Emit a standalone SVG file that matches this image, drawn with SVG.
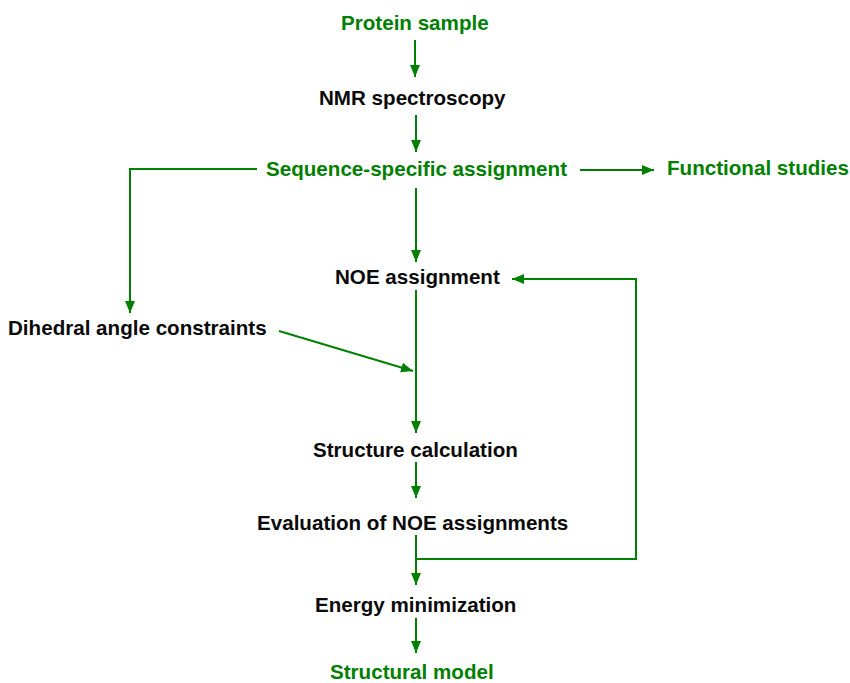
<svg xmlns="http://www.w3.org/2000/svg" width="850" height="683" viewBox="0 0 850 683">
<defs>
<style>
text{font-family:"Liberation Sans",Arial,sans-serif;font-weight:bold;font-size:20.6px}
.g{fill:#008000}
.k{fill:#0a0a0a}
.c{fill:none;stroke:#008000;stroke-width:2}
</style>
<marker id="ah" markerUnits="userSpaceOnUse" markerWidth="13" markerHeight="11" refX="12" refY="5" orient="auto">
<path d="M0,0 L12,5 L0,10 z" fill="#008000"/>
</marker>
</defs>
<rect width="850" height="683" fill="#ffffff"/>
<g id="connectors">
<path class="c" d="M415,40 L415,77" marker-end="url(#ah)"/>
<path class="c" d="M416,115 L416,152" marker-end="url(#ah)"/>
<path class="c" d="M257,169 L130,169 L130,313" marker-end="url(#ah)"/>
<path class="c" d="M580,170 L654,170" marker-end="url(#ah)"/>
<path class="c" d="M416,188 L416,262" marker-end="url(#ah)"/>
<path class="c" d="M416,290 L416,433" marker-end="url(#ah)"/>
<path class="c" d="M279,331 L413,371" marker-end="url(#ah)"/>
<path class="c" d="M416,559 L636,559 L636,279 L512,279" marker-end="url(#ah)"/>
<path class="c" d="M416,462 L416,498" marker-end="url(#ah)"/>
<path class="c" d="M416,535 L416,585" marker-end="url(#ah)"/>
<path class="c" d="M416,618 L416,653" marker-end="url(#ah)"/>
</g>
<g id="protein-sample"><text class="g" x="341" y="30">Protein sample</text></g>
<g id="nmr-spectroscopy"><text class="k" x="319" y="105">NMR spectroscopy</text></g>
<g id="sequence-specific-assignment"><text class="g" x="266" y="176">Sequence-specific assignment</text></g>
<g id="functional-studies"><text class="g" x="667" y="175">Functional studies</text></g>
<g id="noe-assignment"><text class="k" x="335" y="284">NOE assignment</text></g>
<g id="dihedral-angle-constraints"><text class="k" x="8" y="335">Dihedral angle constraints</text></g>
<g id="structure-calculation"><text class="k" x="313" y="457">Structure calculation</text></g>
<g id="evaluation-of-noe-assignments"><text class="k" x="257" y="530">Evaluation of NOE assignments</text></g>
<g id="energy-minimization"><text class="k" x="315" y="612">Energy minimization</text></g>
<g id="structural-model"><text class="g" x="330" y="679">Structural model</text></g>
</svg>
